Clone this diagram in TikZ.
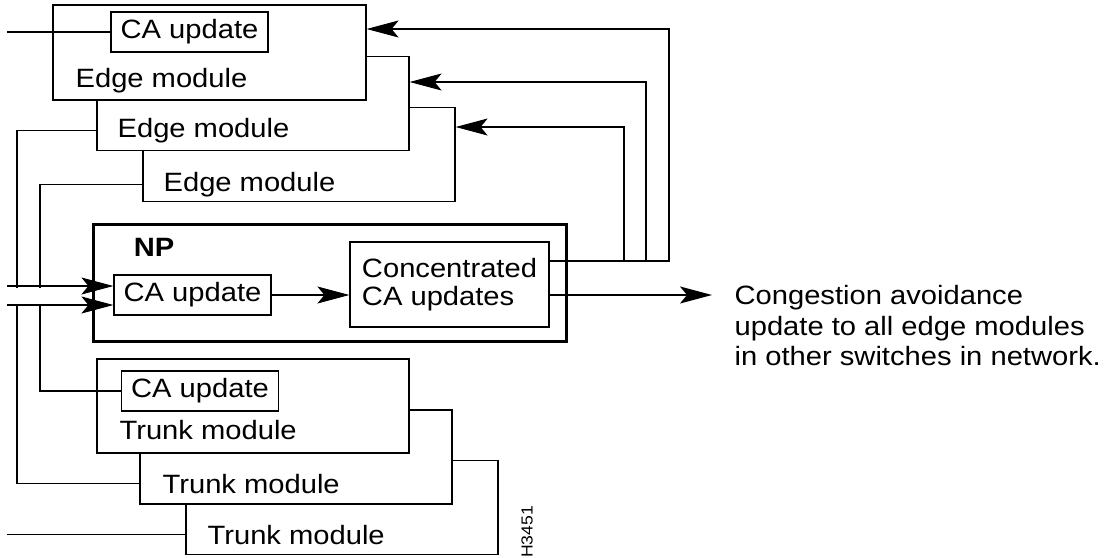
\documentclass[tikz,border=0pt]{standalone}
\usepackage{fontspec}
\setmainfont{Liberation Sans}[FakeStretch=1.1]
\usetikzlibrary{arrows.meta}

\begin{document}
\begin{tikzpicture}[x=1pt,y=-1pt,line width=1.2pt,
    txt/.style={font=\fontsize{26.5}{30.5}\selectfont},
    module/.style={draw, fill=white, minimum width=312pt, minimum height=94pt, inner sep=0pt},
    cabox/.style={draw, fill=white, txt, minimum width=157pt, minimum height=40pt, inner sep=0pt},
    lab/.style={txt, anchor=base west, inner sep=0pt},
    tip/.style={-{Stealth[length=32pt,width=17pt,inset=7pt]}}]
    \useasboundingbox (0,0) rectangle (1107,557);
    \coordinate (inA) at (7,0);
    \coordinate (busL) at (17,0);
    \coordinate (busR) at (40,0);
    \coordinate (outTip) at (712,0);
    % edge modules
    \node[module] (edgeC) at (299,154.5) {};
    \node[module] (edgeB) at (253,103.5) {};
    \node[module, minimum width=313pt, minimum height=95pt] (edgeA) at (209.5,52.5) {};
    \node[cabox] (caA) at (189.5,32) {CA update};
    \node[lab] (labA) at (75,87) {Edge module};
    \node[lab] (labB) at (117,137) {Edge module};
    \node[lab] (labC) at (163,191) {Edge module};
    % trunk modules
    \node[module] (trunkC) at (342,507.5) {};
    \node[module] (trunkB) at (296,457) {};
    \node[module] (trunkA) at (253,406) {};
    \node[cabox] (caT) at (200,391) {CA update};
    \node[lab] (labD) at (119,439) {Trunk module};
    \node[lab] (labE) at (162,493) {Trunk module};
    \node[lab] (labF) at (207,544) {Trunk module};
    % NP
    \node[draw, line width=3pt, minimum width=473pt, minimum height=117pt, inner sep=0pt] (np) at (329.5,282.5) {};
    \node[txt, font=\fontsize{26.5}{30.5}\selectfont\bfseries, inner sep=0pt] (npLab) at (154,247) {NP};
    \node[cabox] (caN) at (192.5,295) {CA update};
    \node[draw, font=\fontsize{26.5}{28}\selectfont, align=left, minimum width=199pt, minimum height=85pt, inner sep=0pt] (conc) at (449.5,284.5) {Concentrated\\CA updates};
    \node[txt, anchor=north west, align=left, inner sep=0pt] (note) at (734,285) {Congestion avoidance\\update to all edge modules\\in other switches in network.};
    \node[rotate=90, font=\fontsize{16}{16}\selectfont, inner sep=0pt] (code) at (527,532) {H3451};

    \draw (inA |- caA.west) -- (caA.west);
    \draw (edgeB.west |- labB.west) -| (busL |- labE.west) -- (trunkB.west |- labE.west);
    \draw (edgeC.west |- labC.west) -| (busR |- caT.west) -- (caT.west);
    \draw (inA |- labF.west) -- (trunkC.west |- labF.west);
    \fill[white] (8,287.5) rectangle (90,303.5);
    \draw[tip] ([yshift=9pt]caN.west -| inA) -- ([yshift=9pt]caN.west);
    \draw[tip] ([yshift=-10pt]caN.west -| inA) -- ([yshift=-10pt]caN.west);
    \draw[tip] (caN) -- (caN -| conc.west);
    \draw[tip] (conc.east |- caN) -- (outTip |- caN);

    \coordinate (ret) at ([yshift=23.5pt]conc.east);
    \draw[tip] (ret) -| (669,29) -- (edgeA.east |- 0,29);
    \draw[tip] (ret -| 646,0) |- (edgeB.east |- 0,82);
    \draw[tip] (ret -| 624,0) |- (edgeC.east |- 0,127);
\end{tikzpicture}
\end{document}
